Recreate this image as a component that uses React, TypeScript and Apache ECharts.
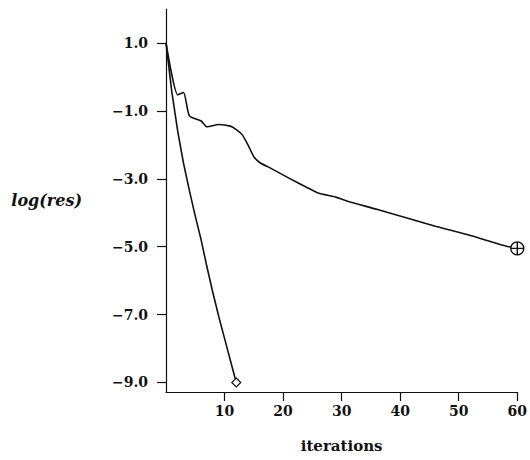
import React, { useEffect, useRef } from "react";
import * as echarts from "echarts";

const xTicks = [10, 20, 30, 40, 50, 60];
const yTicks = [1, -1, -3, -5, -7, -9];

// fast-converging run: iterations 0..12
const fastIter = [0, 1, 2, 3, 4, 5, 6, 7, 8, 9, 10, 11, 12];
const fastRes = [1.0, -0.45, -1.6, -2.55, -3.35, -4.1, -4.8, -5.6, -6.35, -7.05, -7.7, -8.35, -9.0];

// slow run: iterations 0..60
const slowIter = [0, 2, 3, 4, 6, 7, 9, 11, 12, 13, 14, 15, 16, 18, 21, 24, 26, 29, 31, 36, 41, 46, 52, 56, 58, 60];
const slowRes = [1.0, -0.53, -0.46, -1.15, -1.3, -1.47, -1.4, -1.45, -1.55, -1.7, -2.0, -2.35, -2.52, -2.7, -2.98, -3.25, -3.42, -3.54, -3.66, -3.9, -4.15, -4.4, -4.67, -4.88, -4.98, -5.05];

const circlePlus =
  "path://M0,-10A10,10,0,1,1,0,10A10,10,0,1,1,0,-10ZM-10,0L10,0M0,-10L0,10";

export default function App() {
  const ref = useRef<HTMLDivElement>(null);
  useEffect(() => {
    if (!ref.current) return;
    const chart = echarts.init(ref.current, null, { renderer: "svg" });
    const font = "'DejaVu Serif', 'Liberation Serif', serif";
    const fastData = fastIter.map((x, i) => [x, fastRes[i]]);
    const slowData = slowIter.map((x, i) => [x, slowRes[i]]);
    chart.setOption({
      animation: false,
      backgroundColor: "#ffffff",
      grid: { left: 166, right: 11, top: 9, bottom: 68 },
      xAxis: {
        type: "value",
        min: 0,
        max: 60,
        name: "iterations",
        nameLocation: "middle",
        nameGap: 46,
        nameTextStyle: { fontFamily: font, fontWeight: "bold", fontSize: 15, color: "#111" },
        axisLine: { show: true, onZero: false, lineStyle: { color: "#111", width: 1.2 } },
        axisTick: { show: true, length: 9, inside: false, customValues: xTicks, lineStyle: { color: "#111", width: 1.2 } },
        axisLabel: {
          customValues: xTicks,
          margin: 12,
          fontFamily: font,
          fontWeight: "bold",
          fontSize: 14,
          color: "#111",
        },
        splitLine: { show: false },
      },
      yAxis: {
        type: "value",
        min: -9.28,
        max: 2.0,
        name: "log(res)",
        nameLocation: "middle",
        nameRotate: 0,
        nameGap: 84,
        nameTextStyle: { fontFamily: font, fontStyle: "italic", fontWeight: "bold", fontSize: 16, color: "#111" },
        axisLine: { show: true, onZero: false, lineStyle: { color: "#111", width: 1.2 } },
        axisTick: { show: true, length: 9, inside: false, customValues: yTicks, lineStyle: { color: "#111", width: 1.2 } },
        axisLabel: {
          customValues: yTicks,
          margin: 18,
          fontFamily: font,
          fontWeight: "bold",
          fontSize: 14,
          color: "#111",
          formatter: (v: number) => v.toFixed(1).replace("-", "\u2212"),
        },
        splitLine: { show: false },
      },
      series: [
        {
          type: "line",
          data: fastData,
          showSymbol: true,
          symbol: (_v: any, p: any) => (p.dataIndex === fastData.length - 1 ? "diamond" : "none"),
          symbolSize: [9, 9],
          itemStyle: { color: "#fff", borderColor: "#111", borderWidth: 1.2 },
          lineStyle: { color: "#111", width: 1.6 },
          z: 3,
        },
        {
          type: "line",
          data: slowData,
          smooth: 0.2,
          showSymbol: true,
          symbol: (_v: any, p: any) => (p.dataIndex === slowData.length - 1 ? circlePlus : "none"),
          symbolSize: [13, 13],
          itemStyle: { color: "#fff", borderColor: "#111", borderWidth: 1.4 },
          lineStyle: { color: "#111", width: 1.6 },
          z: 3,
        },
      ],
    });
    return () => chart.dispose();
  }, []);
  return (
    <div
      ref={ref}
      style={{ position: "fixed", left: 0, top: 0, width: 530, height: 460, background: "#fff" }}
    />
  );
}
